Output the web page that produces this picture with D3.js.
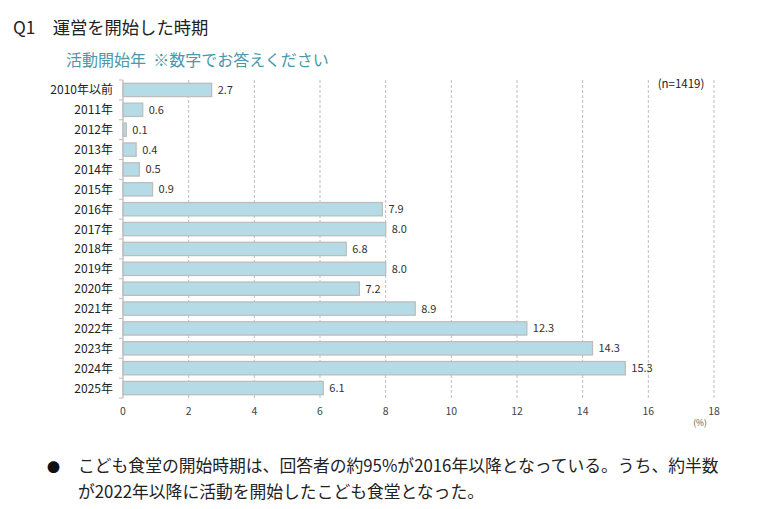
<!DOCTYPE html>
<html><head><meta charset="utf-8">
<script src="https://cdn.jsdelivr.net/npm/d3@7"></script>
<style>body{margin:0;background:#fff}svg{display:block}text{font-family:"Noto Sans CJK JP","Noto Sans",sans-serif}</style>
</head><body>
<script>
const categories = ["2010年以前","2011年","2012年","2013年","2014年","2015年","2016年","2017年","2018年","2019年","2020年","2021年","2022年","2023年","2024年","2025年"];
const values = [2.7,0.6,0.1,0.4,0.5,0.9,7.9,8.0,6.8,8.0,7.2,8.9,12.3,14.3,15.3,6.1];
const xTicks = [0,2,4,6,8,10,12,14,16,18];
const title = "Q1　運営を開始した時期";
const subtitle = "活動開始年  ※数字でお答えください";
const nLabel = "(n=1419)";
const unitLabel = "(%)";
const note1 = "こども食堂の開始時期は、回答者の約95%が2016年以降となっている。うち、約半数";
const note2 = "が2022年以降に活動を開始したこども食堂となった。";

const W = 758, H = 509;
const svg = d3.select("body").append("svg").attr("width", W).attr("height", H);
const x = d3.scaleLinear().domain([0,18]).range([123,714]);
const y = d3.scaleBand().domain(categories).range([80,398]).paddingInner(0.33).paddingOuter(0.165);

// title
svg.append("text").attr("x",13).attr("y",34).attr("font-size",17.3).attr("fill","#222").text(title);
svg.append("text").attr("x",66).attr("y",66).attr("font-size",16).attr("fill","#4b97ad").attr("xml:space","preserve").text(subtitle);

// gridlines
svg.append("g").selectAll("line").data(xTicks.filter(d=>d>0)).join("line")
  .attr("x1",d=>x(d)).attr("x2",d=>x(d)).attr("y1",80).attr("y2",398)
  .attr("stroke","#bdbdbd").attr("stroke-width",1).attr("stroke-dasharray","3,2");

// bars
svg.append("g").selectAll("rect").data(values).join("rect")
  .attr("x",x(0)).attr("y",(d,i)=>y(categories[i]))
  .attr("width",d=>x(d)-x(0)).attr("height",y.bandwidth())
  .attr("fill","#b5dce6").attr("stroke","#bdbdbd").attr("stroke-width",1.3);

// value labels
svg.append("g").selectAll("text").data(values).join("text")
  .attr("x",d=>x(d)+6).attr("y",(d,i)=>y(categories[i])+y.bandwidth()/2+4)
  .attr("font-size",11).attr("fill","#333").text(d=>d.toFixed(1));

// y axis
const step = y.step();
const yAxisG = svg.append("g");
yAxisG.append("line").attr("x1",x(0)).attr("x2",x(0)).attr("y1",80).attr("y2",398).attr("stroke","#bdbdbd").attr("stroke-width",1.3);
yAxisG.selectAll("line.tk").data(d3.range(categories.length+1)).join("line").attr("class","tk")
  .attr("x1",x(0)-4).attr("x2",x(0)).attr("y1",i=>80+i*step).attr("y2",i=>80+i*step)
  .attr("stroke","#bdbdbd");
svg.append("g").selectAll("text").data(categories).join("text")
  .attr("x",113).attr("y",d=>y(d)+y.bandwidth()/2+4.5).attr("text-anchor","end")
  .attr("font-size",12).attr("fill","#222").text(d=>d);

// x tick labels
svg.append("g").selectAll("text").data(xTicks).join("text")
  .attr("x",d=>x(d)).attr("y",415).attr("text-anchor","middle")
  .attr("font-size",10.5).attr("fill","#444").text(d=>d);
svg.append("text").attr("x",700).attr("y",426).attr("text-anchor","middle").attr("font-size",8.5).attr("fill","#555").text(unitLabel);

// n label
svg.append("text").attr("x",681).attr("y",88).attr("text-anchor","middle").attr("font-size",11.5).attr("fill","#222").text(nLabel);

// notes
svg.append("text").attr("x",47).attr("y",472).attr("font-size",13).attr("fill","#111").text("●");
svg.append("text").attr("x",78).attr("y",472).attr("font-size",16.8).attr("fill","#222").text(note1);
svg.append("text").attr("x",78).attr("y",498).attr("font-size",16.8).attr("fill","#222").text(note2);
</script>
</body></html>
